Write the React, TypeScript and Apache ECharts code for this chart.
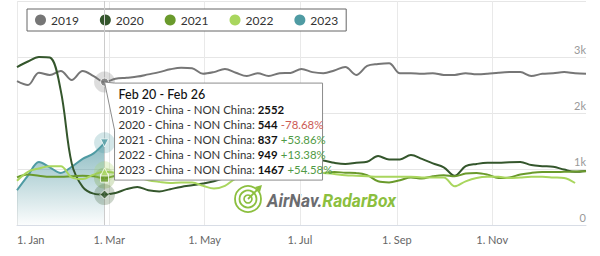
import React, { useEffect, useRef } from "react";
import * as echarts from "echarts";

const years = ["2019", "2020", "2021", "2022", "2023"];
const colors = ["#767676", "#34562c", "#6a9a2c", "#a9d65e", "#4f9ba3"];
const symbols = ["circle", "diamond", "rect", "triangle", "triangle"];
const symbolRotations = [0, 0, 0, 0, 180];

// Weekly values (weeks ending on Sundays, reference year 2023: week 0 ends on 1 Jan)
const s2019 = [2570, 2500, 2720, 2680, 2750, 2590, 2750, 2660, 2552, 2610, 2630, 2650, 2690, 2730, 2780, 2810, 2800, 2700, 2730, 2785, 2720, 2660, 2710, 2660, 2710, 2715, 2785, 2730, 2710, 2760, 2820, 2680, 2840, 2875, 2890, 2710, 2710, 2700, 2710, 2680, 2680, 2710, 2690, 2700, 2720, 2730, 2730, 2660, 2700, 2710, 2730, 2710, 2700];
const s2020 = [2820, 2920, 3000, 2990, 2400, 1100, 680, 560, 544, 570, 640, 680, 620, 600, 640, 680, 710, 740, 780, 840, 880, 920, 950, 990, 1030, 1080, 1120, 1160, 1150, 1110, 1090, 1110, 1130, 1230, 1170, 1170, 1250, 1180, 1100, 1030, 880, 1050, 1090, 1110, 1110, 1120, 1125, 1070, 1050, 1040, 990, 950, 965];
const s2021 = [850, 900, 880, 860, 860, 870, 880, 870, 837, 880, 900, 920, 930, 940, 950, 960, 950, 940, 930, 920, 930, 940, 950, 940, 930, 920, 930, 940, 930, 945, 935, 930, 890, 780, 760, 800, 850, 830, 870, 890, 870, 920, 930, 900, 840, 850, 900, 930, 945, 945, 950, 955, 960];
const s2022 = [790, 950, 1010, 1050, 1050, 850, 820, 900, 949, 930, 900, 860, 800, 770, 750, 760, 760, 700, 650, 700, 830, 860, 900, 920, 930, 940, 940, 935, 930, 910, 890, 880, 870, 860, 860, 860, 860, 850, 850, 850, 690, 780, 840, 860, 860, 840, 850, 860, 860, 850, 840, 750, null];
const s2023 = [620, 880, 1125, 1030, 930, 1040, 1180, 1280, 1467];
const seriesValues = [s2019, s2020, s2021, s2022, s2023];

const monthTickDays = [0, 59, 120, 181, 243, 304];
const monthTickLabels = ["1. Jan", "1. Mar", "1. May", "1. Jul", "1. Sep", "1. Nov"];
const yTickLabels: Record<number, string> = { 0: "0", 1000: "1k", 2000: "2k", 3000: "3k", 4000: "" };

const hoverWeek = 8;
const seriesLabel = " - China - NON China: ";
const FONT = "Lato, 'Open Sans', sans-serif";

const monthNames = ["Jan", "Feb", "Mar", "Apr", "May", "Jun", "Jul", "Aug", "Sep", "Oct", "Nov", "Dec"];
const fmtDay = (d: Date) => `${monthNames[d.getUTCMonth()]} ${d.getUTCDate()}`;

export default function App() {
  const ref = useRef<HTMLDivElement>(null);
  useEffect(() => {
    if (!ref.current) return;
    const chart = echarts.init(ref.current, null, { renderer: "svg" });

    const lineSeries: any[] = seriesValues.map((vals, i) => {
      const s: any = {
        name: years[i],
        type: "line",
        smooth: 0.35,
        symbol: "none",
        z: 2,
        data: vals.map((v, w) => [w * 7, v]),
        itemStyle: { color: colors[i] },
        lineStyle: { color: colors[i], width: 2 },
      };
      if (i === 4) {
        s.z = 1;
        s.areaStyle = {
          color: new echarts.graphic.LinearGradient(0, 0, 0, 1, [
            { offset: 0, color: "rgba(74,148,158,0.9)" },
            { offset: 1, color: "rgba(74,148,158,0.03)" },
          ]),
        };
      }
      if (i === 0) {
        s.markLine = {
          silent: true,
          symbol: ["none", "none"],
          label: { show: false },
          lineStyle: { color: "#cccccc", width: 1, type: "solid" },
          data: [{ xAxis: hoverWeek * 7 }],
        };
      }
      return s;
    });

    const haloSeries = seriesValues.map((vals, i) => ({
      name: years[i] + "-halo",
      type: "scatter",
      silent: true,
      z: 5,
      symbol: "circle",
      symbolSize: 21,
      itemStyle: { color: colors[i], opacity: 0.25 },
      data: [[hoverWeek * 7, vals[hoverWeek]]],
    }));
    const markerSeries = seriesValues.map((vals, i) => ({
      name: years[i] + "-marker",
      type: "scatter",
      silent: true,
      z: 6,
      symbol: symbols[i],
      symbolRotate: symbolRotations[i],
      symbolSize: i === 1 ? 9 : 8,
      itemStyle: { color: colors[i], borderColor: "#ffffff", borderWidth: 1 },
      data: [[hoverWeek * 7, vals[hoverWeek]]],
    }));

    // static tooltip, anchored on the hovered 2019 point
    const endDate = new Date(Date.UTC(2023, 0, 1 + hoverWeek * 7));
    const startDate = new Date(Date.UTC(2023, 0, 1 + hoverWeek * 7 - 6));
    const title = `${fmtDay(startDate)} - ${fmtDay(endDate)}`;
    const fs = 11.4;
    const rowTexts = seriesValues.map((vals, i) => {
      const v = vals[hoverWeek] as number;
      let extra = "";
      if (i > 0) {
        const prev = seriesValues[i - 1][hoverWeek] as number;
        const pct = (v / prev - 1) * 100;
        extra = pct >= 0 ? ` {g|+${pct.toFixed(2)}%}` : ` {r|${pct.toFixed(2)}%}`;
      }
      return `{n|${years[i]}${seriesLabel}}{b|${v}}${extra}`;
    });

    const tooltipSeries = {
      name: "tooltip",
      type: "custom",
      silent: true,
      z: 20,
      clip: false,
      data: [[hoverWeek * 7, s2019[hoverWeek]]],
      renderItem: (params: any, api: any) => {
        const p = api.coord([api.value(0), api.value(1)]);
        const bx = p[0] + 10, by = p[1] + 1, bw = 208, bh = 97;
        const children: any[] = [
          {
            type: "polygon",
            shape: {
              points: [
                [bx, by],
                [bx + bw, by],
                [bx + bw, by + bh],
                [bx, by + bh],
                [bx, by + 47],
                [p[0], p[1]],
              ],
            },
            style: { fill: "#ffffff", stroke: "#8c8c8c", lineWidth: 1 },
          },
          {
            type: "text",
            x: bx + 4,
            y: by + 11,
            style: { text: title, fontSize: 12.5, fontWeight: 500, fill: "#111111", fontFamily: FONT, verticalAlign: "middle" },
          },
        ];
        rowTexts.forEach((t, i) => {
          children.push({
            type: "text",
            x: bx + 4,
            y: by + 26 + i * 15,
            style: {
              text: t,
              verticalAlign: "middle",
              rich: {
                n: { fontSize: fs, fill: "#333333", fontFamily: FONT },
                b: { fontSize: fs, fill: "#111111", fontWeight: "bold", fontFamily: FONT },
                r: { fontSize: fs, fill: "#cc5a55", fontFamily: FONT },
                g: { fontSize: fs, fill: "#4f9a44", fontFamily: FONT },
              },
            },
          });
        });
        return { type: "group", children };
      },
    };

    chart.setOption({
      animation: false,
      backgroundColor: "#ffffff",
      textStyle: { fontFamily: FONT },
      grid: { left: 17, right: 14, top: 1, bottom: 31 },
      legend: {
        data: years,
        icon: "circle",
        left: 27,
        top: 9,
        itemWidth: 11,
        itemHeight: 11,
        itemGap: 21,
        padding: [5, 8, 5, 8],
        borderColor: "#666666",
        borderWidth: 1,
        backgroundColor: "#ffffff",
        textStyle: { fontSize: 12, color: "#333333", fontFamily: FONT },
      },
      xAxis: {
        type: "value",
        min: 0,
        max: 364,
        axisLine: { show: true, lineStyle: { color: "#d8dde6" } },
        axisTick: { show: false, customValues: monthTickDays },
        axisLabel: {
          customValues: monthTickDays,
          formatter: (v: number) => monthTickLabels[monthTickDays.indexOf(v)] ?? "",
          color: "#666666",
          fontSize: 11,
          margin: 9,
          fontFamily: FONT,
          alignMinLabel: "left",
        },
        splitLine: { show: true, lineStyle: { color: "#e9e9e9" } },
      },
      yAxis: {
        type: "value",
        position: "right",
        min: 0,
        max: 4000,
        interval: 1000,
        axisLine: { show: false },
        axisTick: { show: false },
        splitLine: { lineStyle: { color: "#e6e6e6" } },
        axisLabel: {
          inside: true,
          margin: 0,
          verticalAlign: "bottom",
          padding: [0, 0, 2, 0],
          color: "#999999",
          fontSize: 11,
          fontFamily: FONT,
          formatter: (v: number) => yTickLabels[v] ?? "",
        },
      },
      graphic: [
        {
          type: "group",
          x: 248,
          y: 199,
          children: [
            { type: "circle", shape: { cx: 0, cy: 0, r: 13 }, style: { fill: "none", stroke: "#8cbf3f", lineWidth: 1.8 } },
            { type: "circle", shape: { cx: 0, cy: 0, r: 8.5 }, style: { fill: "none", stroke: "#8cbf3f", lineWidth: 1.8 } },
            { type: "circle", shape: { cx: 0, cy: 0, r: 4 }, style: { fill: "none", stroke: "#8cbf3f", lineWidth: 1.6 } },
            { type: "line", shape: { x1: 0, y1: 0, x2: 11, y2: -11 }, style: { stroke: "#8cbf3f", lineWidth: 1.8 } },
            { type: "polygon", shape: { points: [[14, -14], [7, -12], [12, -7]] }, style: { fill: "#8cbf3f" } },
            {
              type: "text",
              x: 19,
              y: 2,
              style: {
                text: "{a|AirNav.}{b|RadarBox}",
                verticalAlign: "middle",
                rich: {
                  a: { fontSize: 17.5, fontStyle: "italic", fontWeight: "bold", fill: "#6b6c70", fontFamily: "Roboto, sans-serif" },
                  b: { fontSize: 17.5, fontStyle: "italic", fontWeight: "bold", fill: "#8cbf3f", fontFamily: "Roboto, sans-serif" },
                },
              },
            },
          ],
        },
      ],
      series: [...lineSeries, ...haloSeries, ...markerSeries, tooltipSeries],
    });

    return () => chart.dispose();
  }, []);
  return <div ref={ref} style={{ position: "fixed", left: 0, top: 0, width: 600, height: 256 }} />;
}
